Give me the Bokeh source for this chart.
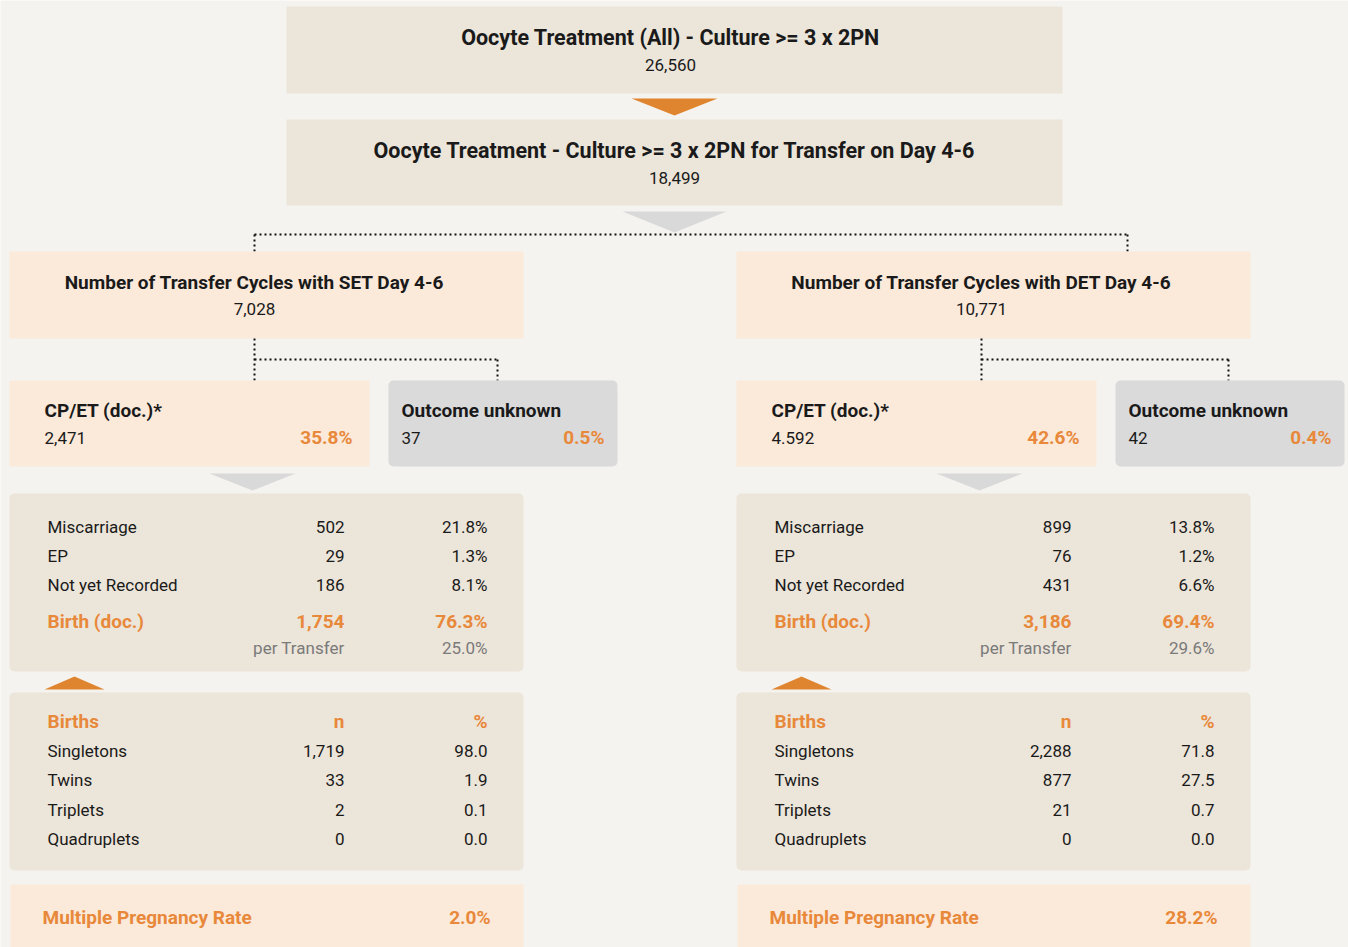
from bokeh.plotting import figure
from bokeh.models import Range1d
from bokeh.embed import file_html
from bokeh.resources import INLINE
from bokeh.core.properties import value

# ---------------- data ----------------
top_titles = ["Oocyte Treatment (All) - Culture >= 3 x 2PN",
              "Oocyte Treatment - Culture >= 3 x 2PN for Transfer on Day 4-6"]
top_values = ["26,560", "18,499"]
branch_titles = ["Number of Transfer Cycles with SET Day 4-6",
                 "Number of Transfer Cycles with DET Day 4-6"]
branch_values = ["7,028", "10,771"]
cpet_n = ["2,471", "4.592"]
cpet_pct = ["35.8%", "42.6%"]
unknown_n = ["37", "42"]
unknown_pct = ["0.5%", "0.4%"]
outcome_labels = ["Miscarriage", "EP", "Not yet Recorded"]
outcome_n = [["502", "29", "186"], ["899", "76", "431"]]
outcome_pct = [["21.8%", "1.3%", "8.1%"], ["13.8%", "1.2%", "6.6%"]]
birth_n = ["1,754", "3,186"]
birth_pct = ["76.3%", "69.4%"]
per_transfer = ["25.0%", "29.6%"]
births_labels = ["Singletons", "Twins", "Triplets", "Quadruplets"]
births_n = [["1,719", "33", "2", "0"], ["2,288", "877", "21", "0"]]
births_pct = [["98.0", "1.9", "0.1", "0.0"], ["71.8", "27.5", "0.7", "0.0"]]
mpr = ["2.0%", "28.2%"]

# ---------------- style ----------------
BG = "#f5f3ef"
BEIGE = "#ece5d9"
PEACH = "#fbe9d9"
GREY = "#dadada"
ORANGE = "#e8883a"
ORANGE_TRI = "#e0852f"
GREY_TRI = "#d9d9d9"
DARK = "#1a1a1a"
MUTED = "#7a7a7a"
FONT = "Roboto"
REG = 17
BOLD = 19
TOP = 21.5

p = figure(width=1348, height=947, x_range=Range1d(0, 1348), y_range=Range1d(947, 0),
           output_backend="svg", toolbar_location=None, min_border=0,
           background_fill_color=BG, border_fill_color=BG, outline_line_color=None)
p.axis.visible = False
p.grid.visible = False


def box(x0, x1, y0, y1, color, rounded=False):
    if rounded:
        try:
            p.quad(left=x0, right=x1, top=y0, bottom=y1, fill_color=color,
                   line_color=None, border_radius=5)
            return
        except Exception:
            pass
    p.quad(left=x0, right=x1, top=y0, bottom=y1, fill_color=color, line_color=None)


def tri(xc, half, y0, y1, color):
    # triangle with base at y0 and tip at y1
    p.patch([xc - half, xc + half, xc], [y0, y0, y1], fill_color=color, line_color=None)


def txt(x, y, s, size=REG, bold=False, color=DARK, align="left"):
    p.text(x=[x], y=[y], text=[s], text_font=value(FONT), text_font_size=f"{size}px",
           text_font_style="bold" if bold else "normal", text_color=color,
           text_align=align, text_baseline="middle")


def dots(xs, ys):
    p.line(xs, ys, line_color="#111111", line_width=2, line_dash="2 3")


# top boxes
box(286, 1062, 6, 93, BEIGE)
txt(670, 37, top_titles[0], TOP, True, align="center")
txt(670, 64, top_values[0], REG, align="center")
tri(674, 43, 98, 115, ORANGE_TRI)
box(286, 1062, 119, 205, BEIGE)
txt(674, 150, top_titles[1], TOP, True, align="center")
txt(674, 177, top_values[1], REG, align="center")
tri(674, 52, 211, 232, GREY_TRI)

dots([254, 1127], [234, 234])
dots([254, 254], [234, 251])
dots([1127, 1127], [234, 251])

for i, off in enumerate([0, 727]):
    # branch box
    box(9 + off, 523 + off, 251, 338, PEACH)
    txt(254 + off, 282, branch_titles[i], BOLD, True, align="center")
    txt(254 + off, 308, branch_values[i], REG, align="center")
    # connectors
    cx = 254 + off
    ux = 497 + off if i == 0 else 1228
    dots([cx, cx], [338, 380])
    dots([cx, ux], [359, 359])
    dots([ux, ux], [359, 380])
    # CP/ET
    box(9 + off, 369 + off, 380, 466, PEACH)
    txt(44 + off, 410, "CP/ET (doc.)*", BOLD, True)
    txt(44 + off, 437, cpet_n[i], REG)
    txt(352 + off, 437, cpet_pct[i], BOLD, True, ORANGE, "right")
    # outcome unknown
    box(388 + off, 617 + off, 380, 466, GREY, True)
    txt(401 + off, 410, "Outcome unknown", BOLD, True)
    txt(401 + off, 437, unknown_n[i], REG)
    txt(604 + off, 437, unknown_pct[i], BOLD, True, ORANGE, "right")
    # grey arrow
    tri(252 + off, 43, 473, 490, GREY_TRI)
    # outcomes
    box(9 + off, 523 + off, 493, 671, BEIGE, True)
    lx, nx, px = 47 + off, 344 + off, 487 + off
    for j, lab in enumerate(outcome_labels):
        y = 526 + j * 29
        txt(lx, y, lab, REG)
        txt(nx, y, outcome_n[i][j], REG, align="right")
        txt(px, y, outcome_pct[i][j], REG, align="right")
    txt(lx, 621, "Birth (doc.)", BOLD, True, ORANGE)
    txt(nx, 621, birth_n[i], BOLD, True, ORANGE, "right")
    txt(px, 621, birth_pct[i], BOLD, True, ORANGE, "right")
    txt(nx, 647, "per Transfer", REG, color=MUTED, align="right")
    txt(px, 647, per_transfer[i], REG, color=MUTED, align="right")
    # orange up arrow
    tri(74 + off, 30, 689, 676, ORANGE_TRI)
    # births
    box(9 + off, 523 + off, 692, 870, BEIGE, True)
    txt(lx, 721, "Births", BOLD, True, ORANGE)
    txt(nx, 721, "n", BOLD, True, ORANGE, "right")
    txt(px, 721, "%", BOLD, True, ORANGE, "right")
    for j, lab in enumerate(births_labels):
        y = 750 + j * 29.5
        txt(lx, y, lab, REG)
        txt(nx, y, births_n[i][j], REG, align="right")
        txt(px, y, births_pct[i][j], REG, align="right")
    # multiple pregnancy rate
    box(10 + off, 523 + off, 884, 947, PEACH)
    txt(42 + off, 917, "Multiple Pregnancy Rate", BOLD, True, ORANGE)
    txt(490 + off, 917, mpr[i], BOLD, True, ORANGE, "right")

open("out.html", "w").write(file_html(p, INLINE))
